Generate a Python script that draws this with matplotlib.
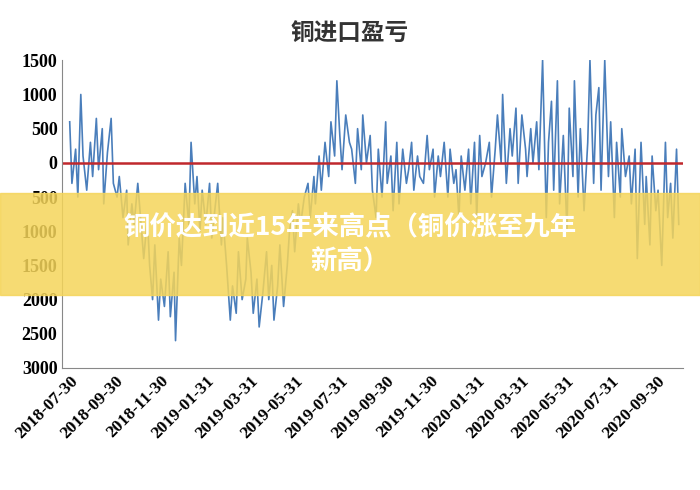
import matplotlib
matplotlib.use("Agg")
import matplotlib.pyplot as plt
import pandas as pd
import numpy as np

plt.rcParams['font.family'] = ['Noto Sans CJK SC', 'DejaVu Sans']

title = "铜进口盈亏"
banner = "铜价达到近15年来高点（铜价涨至九年\n新高）"
start, end = "2018-07-30", "2020-10-30"
tick_labels = ["2018-07-30","2018-09-30","2018-11-30","2019-01-31","2019-03-31","2019-05-31",
               "2019-07-31","2019-09-30","2019-11-30","2020-01-31","2020-03-31","2020-05-31",
               "2020-07-31","2020-09-30"]
values = [
 600,-300,200,-500,1000,100,-400,300,-200,650,-100,500,-600,150,650,-300,
 -500,-200,-800,-400,-1200,-600,-900,-300,-700,-1400,-800,
 -1500,-2000,-1200,-2300,-1700,-2100,-1300,-2250,-1600,-2600,
 -1100,-1500,-300,-900,300,-600,-200,-1000,
 -400,-900,-300,-1100,-600,-300,-1200,-800,
 -1500,-2300,-1800,-2200,-1300,-2000,-1700,-1100,
 -1600,-2200,-1700,-2400,-1900,-1300,-2000,-1500,-2300,
 -1800,-1200,-2100,-1500,-1000,-700,-1300,-600,
 -900,-500,-300,-800,-200,-600,100,-400,
 300,-200,600,100,1200,400,-100,700,300,
 200,-300,500,-100,700,0,400,-400,
 -800,200,-500,600,-300,100,-700,300,
 -600,200,-300,-100,300,-400,100,-200,
 -300,400,-100,200,-500,100,-200,300,
 -500,200,-300,-100,-800,100,-400,200,
 -600,300,-800,400,-200,0,300,-500,
 200,700,0,1000,-300,500,100,800,
 -300,700,200,-200,500,0,600,-100,
 1500,-800,300,900,-400,1200,-600,400,
 -1000,800,-200,1200,-500,500,-700,300,
 1500,-300,700,1100,-400,1500,-200,600,
 -800,300,-500,500,-200,100,-600,200,
 -1400,300,-900,-200,-1200,100,-700,-400,
 -1500,300,-800,-300,-1100,200,-900,
]

fig = plt.figure(figsize=(7, 4.9), dpi=100)
fig.patch.set_facecolor('white')
ax = fig.add_axes([0.089, 0.249, 0.887, 0.628])
dates = pd.bdate_range(start, end)
idx = np.linspace(0, len(dates) - 1, len(values)).round().astype(int)
ax.plot(dates[idx], values, color='#4a7ebb', lw=1.2)
ax.axhline(0, color='#c0282d', lw=1.8)
ax.set_ylim(-3000, 1500)
ax.set_yticks(range(-3000, 1501, 500))
ax.set_yticklabels([str(abs(v)) if v < 0 else str(v) for v in range(-3000, 1501, 500)],
                   fontsize=13, family='Liberation Serif', fontweight='bold')
ax.set_xlim(pd.Timestamp("2018-07-20"), pd.Timestamp("2020-11-05"))
ax.set_xticks(pd.to_datetime(tick_labels))
ax.set_xticklabels(tick_labels, rotation=45, ha='right', rotation_mode='anchor',
                   fontsize=12.5, family='Liberation Serif', fontweight='bold')
ax.tick_params(length=0)
for s in ['top', 'right']:
    ax.spines[s].set_visible(False)
for s in ['left', 'bottom']:
    ax.spines[s].set_color('#888888')
fig.text(0.5, 0.93, title, ha='center', va='center', fontsize=17, fontweight='bold', color='#333333')
fig.patches.append(plt.Rectangle((0, 0.397), 1, 0.21, transform=fig.transFigure,
                                 color='#f5d55a', alpha=0.85, zorder=5))
fig.text(0.5, 0.5, banner, ha='center', va='center', fontsize=19, color='white',
         fontweight='bold', zorder=6, linespacing=1.3)
fig.savefig("out.png", dpi=100)
